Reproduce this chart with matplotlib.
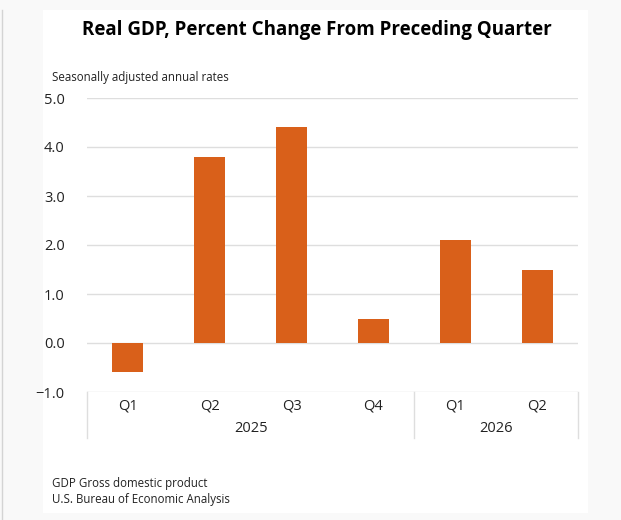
import matplotlib
matplotlib.use("Agg")
import matplotlib.pyplot as plt
from matplotlib.patches import Rectangle
import numpy as np

plt.rcParams['font.family'] = ['Open Sans', 'DejaVu Sans']

quarters = ["Q1", "Q2", "Q3", "Q4", "Q1", "Q2"]
years = ["2025", "2026"]
year_counts = [4, 2]
gdp_change = [-0.6, 3.8, 4.4, 0.5, 2.1, 1.5]
yticks = [-1.0, 0.0, 1.0, 2.0, 3.0, 4.0, 5.0]

W, H = 621, 520
fig = plt.figure(figsize=(W / 100, H / 100), dpi=100, facecolor="#f9f9f9")

# background: white card + left border line
bg = fig.add_axes([0, 0, 1, 1], zorder=-5)
bg.set_xlim(0, W)
bg.set_ylim(H, 0)
bg.axis("off")
bg.add_patch(Rectangle((43, 10), 588 - 43, 513 - 10, facecolor="white", edgecolor="none"))
bg.plot([1.5, 1.5], [10, H], color="#d4d4d4", lw=1)

left, right, top, bottom = 87 / W, 578 / W, 1 - 98 / H, 1 - 392 / H
ax = fig.add_axes([left, bottom, right - left, top - bottom])
ax.set_facecolor("none")

x = np.arange(len(quarters))
ax.bar(x, gdp_change, width=0.38, color="#d9601a", zorder=3)
ax.set_xlim(-0.5, len(quarters) - 0.5)
ax.set_ylim(-1, 5)
ax.set_yticks(yticks)
ax.set_yticklabels([f"{v:.1f}".replace("-", "\u2212") for v in yticks], fontsize=10.5, color="#222222")
ax.tick_params(axis="y", length=0, pad=16)
for v in yticks:
    ax.axhline(v, color="#dedede", lw=1, zorder=1)
for s in ax.spines.values():
    s.set_visible(False)

ax.set_xticks(x)
ax.set_xticklabels(quarters, fontsize=10.5, color="#222222")
ax.tick_params(axis="x", length=0, pad=5)

# year group labels and separators
trans = ax.get_xaxis_transform()
box_bottom = -(438 - 392) / (392 - 98)
start = 0
seps = [-0.5]
for yr, n in zip(years, year_counts):
    mid = start + (n - 1) / 2
    ax.text(mid, -(429 - 392) / (392 - 98), yr, transform=trans, ha="center", va="center",
            fontsize=10.5, color="#222222")
    start += n
    seps.append(start - 0.5)
for s in seps:
    ax.plot([s, s], [0, box_bottom], transform=trans, color="#dedede", lw=1, clip_on=False)

fig.text(317 / W, 1 - 30 / H, "Real GDP, Percent Change From Preceding Quarter",
         ha="center", va="center", fontsize=13.5, fontweight="bold", color="black")
fig.text(52 / W, 1 - 77 / H, "Seasonally adjusted annual rates", ha="left", va="center",
         fontsize=8.3, color="#222222")
fig.text(52 / W, 1 - 483 / H, "GDP Gross domestic product", ha="left", va="center",
         fontsize=8.3, color="#222222")
fig.text(52 / W, 1 - 500 / H, "U.S. Bureau of Economic Analysis", ha="left", va="center",
         fontsize=8.3, color="#222222")

fig.savefig("out.png", dpi=100, facecolor=fig.get_facecolor())
